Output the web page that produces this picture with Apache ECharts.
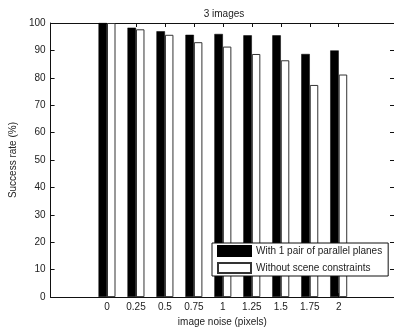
<!DOCTYPE html>
<html>
<head>
<meta charset="utf-8">
<script src="https://cdn.jsdelivr.net/npm/echarts@6/dist/echarts.min.js"></script>
<style>html,body{margin:0;padding:0;background:#fff}#c{width:394px;height:332px}</style>
</head>
<body>
<div id="c"></div>
<script>
const noiseLevels = [0, 0.25, 0.5, 0.75, 1, 1.25, 1.5, 1.75, 2];
const withPlanes = [100, 98.3, 97.0, 95.7, 96.0, 95.5, 95.5, 88.7, 90.0];
const withoutConstraints = [100, 97.7, 95.7, 93.0, 91.4, 88.7, 86.4, 77.4, 81.2];
const seriesNames = ['With 1 pair of parallel planes', 'Without scene constraints'];
const titleText = '3 images';
const xName = 'image noise (pixels)';
const yName = 'Success rate (%)';

const font = 'Liberation Sans, Arial, sans-serif';
const txt = '#222';
const chart = echarts.init(document.getElementById('c'), null, {renderer: 'canvas'});
const xCommon = {
  type: 'value', min: -0.487, max: 2.477,
  splitLine: {show: false},
  axisLine: {show: true, onZero: false, lineStyle: {color: '#111', width: 1}},
};
chart.setOption({
  animation: false,
  backgroundColor: '#fff',
  title: {text: titleText, left: 219, top: 4, textAlign: 'center',
    textStyle: {fontFamily: font, fontSize: 10, fontWeight: 'normal', color: txt}},
  grid: {left: 44, right: 0, top: 23, bottom: 32, containLabel: false},
  legend: {
    orient: 'vertical', left: 212, top: 243,
    data: seriesNames,
    itemWidth: 33, itemHeight: 10, itemGap: 5,
    padding: [2, 6, 2, 5],
    borderColor: '#111', borderWidth: 1, backgroundColor: '#fff',
    textStyle: {fontFamily: font, fontSize: 10, color: txt},
    icon: 'rect'
  },
  xAxis: [
    Object.assign({}, xCommon, {
      position: 'bottom',
      name: xName, nameLocation: 'middle', nameGap: 19,
      nameTextStyle: {fontFamily: font, fontSize: 10, color: txt},
      axisTick: {show: true, inside: true, length: 4, customValues: noiseLevels, lineStyle: {color: '#111'}},
      axisLabel: {show: true, customValues: noiseLevels, margin: 5,
        fontFamily: font, fontSize: 10, color: txt}
    }),
    Object.assign({}, xCommon, {
      position: 'top',
      axisTick: {show: true, inside: true, length: 4, customValues: noiseLevels, lineStyle: {color: '#111'}},
      axisLabel: {show: false}
    })
  ],
  yAxis: [
    {
      type: 'value', min: 0, max: 100, interval: 10, position: 'left',
      name: yName, nameLocation: 'middle', nameGap: 29,
      nameTextStyle: {fontFamily: font, fontSize: 10, color: txt},
      splitLine: {show: false},
      axisLine: {show: true, onZero: false, lineStyle: {color: '#111', width: 1}},
      axisTick: {show: true, inside: true, length: 4, lineStyle: {color: '#111'}},
      axisLabel: {margin: 5, fontFamily: font, fontSize: 10, color: txt}
    },
    {
      type: 'value', min: 0, max: 100, interval: 10, position: 'right',
      splitLine: {show: false},
      axisLine: {show: true, onZero: false, lineStyle: {color: '#111', width: 1}},
      axisTick: {show: true, inside: true, length: 4, lineStyle: {color: '#111'}},
      axisLabel: {show: false}
    }
  ],
  series: [
    {
      name: seriesNames[0], type: 'bar', xAxisIndex: 0, yAxisIndex: 0,
      barWidth: 8.5, barGap: '0%',
      itemStyle: {color: '#000', borderColor: '#000', borderWidth: 0.5},
      data: noiseLevels.map((x, i) => [x, withPlanes[i]])
    },
    {
      name: seriesNames[1], type: 'bar', xAxisIndex: 0, yAxisIndex: 0,
      barWidth: 8.5, barGap: '0%',
      itemStyle: {color: '#fff', borderColor: '#333', borderWidth: 1},
      data: noiseLevels.map((x, i) => [x, withoutConstraints[i]])
    }
  ]
});
</script>
</body>
</html>
